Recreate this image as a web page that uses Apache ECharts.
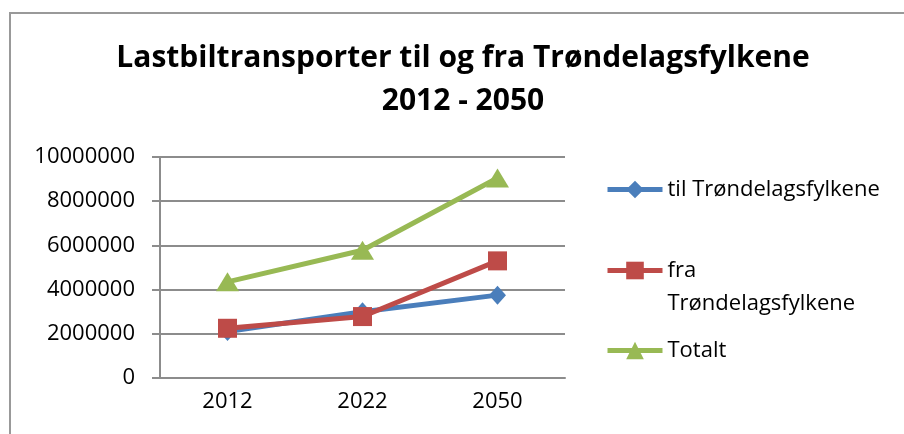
<!DOCTYPE html>
<html>
<head>
<meta charset="utf-8">
<script src="https://cdn.jsdelivr.net/npm/echarts@6/dist/echarts.min.js"></script>
<style>
  html, body { margin: 0; padding: 0; background: #fff; }
  #chart { width: 904px; height: 434px; }
</style>
</head>
<body>
<div id="chart"></div>
<script>
// chart data
const years = ["2012", "2022", "2050"];
const tilValues = [2100000, 3000000, 3750000];
const fraValues = [2250000, 2780000, 5300000];
const totalValues = [4350000, 5780000, 9050000];
const seriesNames = ["til Trøndelagsfylkene", "fra Trøndelagsfylkene", "Totalt"];

const FONT = "Open Sans";
const GRID_COLOR = "#8c8c8c";

const chart = echarts.init(document.getElementById("chart"));

// one legend per item so the wrapped label sits like Excel's (first line on the icon)
const legendItem = (name, top) => ({
  orient: "vertical",
  left: 600,
  top: top,
  itemWidth: 55,
  itemHeight: 22,
  itemGap: 0,
  data: [name],
  lineStyle: { width: 5 },
  formatter: (n) => (n === seriesNames[1] ? "\u00a0\nfra\nTrøndelagsfylkene" : n),
  textStyle: { fontFamily: FONT, fontSize: 22, color: "#000", lineHeight: 33 },
});

chart.setOption({
  animation: false,
  title: {
    text: "Lastbiltransporter til og fra Trøndelagsfylkene\n2012 - 2050",
    left: 458,
    top: 32,
    textAlign: "center",
    textStyle: {
      fontFamily: FONT,
      fontWeight: "bold",
      fontSize: 30,
      lineHeight: 43,
      color: "#000",
    },
  },
  graphic: [
    {
      type: "rect",
      shape: { x: 10, y: 13, width: 1000, height: 1000 },
      style: { fill: "none", stroke: "#999", lineWidth: 2 },
    },
  ],
  legend: [
    legendItem(seriesNames[0], 168),
    legendItem(seriesNames[1], 216),
    legendItem(seriesNames[2], 329),
  ],
  grid: { left: 160, right: 339, top: 157, bottom: 56 },
  xAxis: {
    type: "category",
    data: years,
    axisLine: { lineStyle: { color: GRID_COLOR, width: 2 } },
    axisTick: { length: 7, lineStyle: { color: GRID_COLOR, width: 2 } },
    axisLabel: { fontFamily: FONT, fontSize: 22, color: "#000", margin: 13 },
  },
  yAxis: {
    type: "value",
    min: 0,
    max: 10000000,
    interval: 2000000,
    axisLine: { show: true, lineStyle: { color: GRID_COLOR, width: 2 } },
    axisTick: { show: true, length: 8, lineStyle: { color: GRID_COLOR, width: 2 } },
    splitLine: { lineStyle: { color: GRID_COLOR, width: 2 } },
    axisLabel: {
      fontFamily: FONT,
      fontSize: 22,
      color: "#000",
      margin: 25,
      formatter: (v) => String(v),
    },
  },
  series: [
    {
      name: seriesNames[0],
      type: "line",
      data: tilValues,
      symbol: "diamond",
      symbolSize: [17, 19],
      lineStyle: { width: 5, color: "#4a7ebb" },
      itemStyle: { color: "#4a7ebb" },
    },
    {
      name: seriesNames[1],
      type: "line",
      data: fraValues,
      symbol: "rect",
      symbolSize: 19,
      lineStyle: { width: 5, color: "#be4b48" },
      itemStyle: { color: "#be4b48" },
    },
    {
      name: seriesNames[2],
      type: "line",
      data: totalValues,
      symbol: "triangle",
      symbolSize: [23, 19],
      lineStyle: { width: 5, color: "#98b954" },
      itemStyle: { color: "#98b954" },
    },
  ],
});
</script>
</body>
</html>
